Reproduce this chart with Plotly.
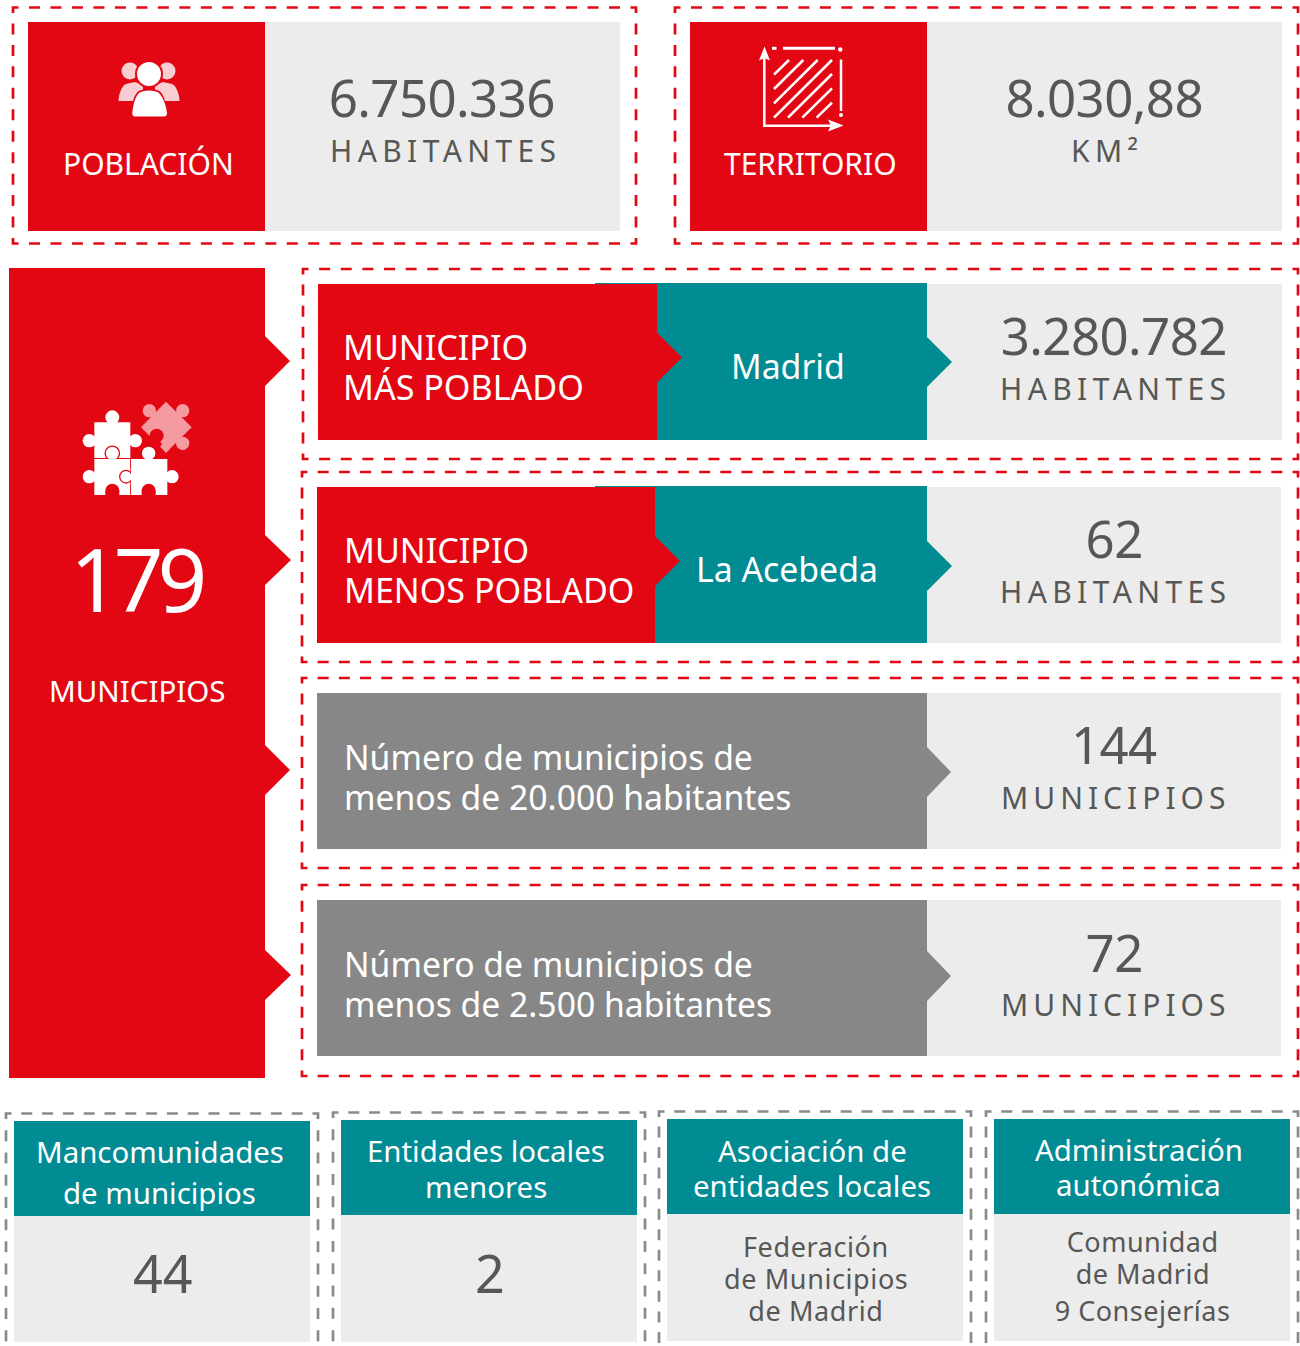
import json
import plotly.graph_objects as go

RED = "#E30713"; TEAL = "#018B93"; DARK = "#878787"; LIGHT = "#ECECEC"; TXT = "#575756"; PINK = "#F9CDD1"; PUZ = "#F49AA1"
GREYLINE = "#8A8A8A"
FONT = "Noto Sans"

# ---------- content ----------
top_labels = ["POBLACIÓN", "TERRITORIO"]
top_values = ["6.750.336", "8.030,88"]
top_units = ["HABITANTES", "KM²"]
total_value = "179"
total_label = "MUNICIPIOS"
row_titles = [["MUNICIPIO", "MÁS POBLADO"], ["MUNICIPIO", "MENOS POBLADO"],
              ["Número de municipios de", "menos de 20.000 habitantes"],
              ["Número de municipios de", "menos de 2.500 habitantes"]]
row_names = ["Madrid", "La Acebeda"]
row_values = ["3.280.782", "62", "144", "72"]
row_units = ["HABITANTES", "HABITANTES", "MUNICIPIOS", "MUNICIPIOS"]
bottom_titles = [["Mancomunidades", "de municipios"], ["Entidades locales", "menores"],
                 ["Asociación de", "entidades locales"], ["Administración", "autonómica"]]
bottom_values = [["44"], ["2"], ["Federación", "de Municipios", "de Madrid"],
                 ["Comunidad", "de Madrid", "9 Consejerías"]]

shapes = []
ann = []
spacing = []

def rect(x0, y0, x1, y1, c):
    shapes.append(dict(type="rect", x0=x0, y0=y0, x1=x1, y1=y1, fillcolor=c, line_width=0, layer="above"))

def circ(cx, cy, r, c):
    shapes.append(dict(type="circle", x0=cx-r, y0=cy-r, x1=cx+r, y1=cy+r, fillcolor=c, line_width=0, layer="above"))

def poly(pts, c):
    p = "M" + " L".join(f"{x},{y}" for x, y in pts) + " Z"
    shapes.append(dict(type="path", path=p, fillcolor=c, line_width=0, layer="above"))

def path(p, c):
    shapes.append(dict(type="path", path=p, fillcolor=c, line_width=0, layer="above"))

def stroke(x0, y0, x1, y1, c="white", w=2.5):
    shapes.append(dict(type="line", x0=x0, y0=y0, x1=x1, y1=y1, line=dict(color=c, width=w), layer="above"))

def side(x0, y0, x1, y1, c, w=2.7, dash=11.0, period=21.4):
    L = abs(x1-x0) + abs(y1-y0)
    n = max(1, round(L/period))
    p = L/n
    ux, uy = (x1-x0)/L, (y1-y0)/L
    s = p - dash/2
    e = L - p + dash/2
    shapes.append(dict(type="line", x0=x0+ux*s, y0=y0+uy*s, x1=x0+ux*e, y1=y0+uy*e,
                       line=dict(color=c, width=w, dash=f"{dash}px,{p-dash}px"), layer="above"))

def corner(x, y, dx, dy, c, w=2.7, a=5.5):
    shapes.append(dict(type="path", path=f"M{x+dx*a},{y} L{x},{y} L{x},{y+dy*a}", fillcolor="rgba(0,0,0,0)",
                       line=dict(color=c, width=w), layer="above"))

def dashed(x0, y0, x1, y1, c):
    side(x0, y0, x1, y0, c); side(x1, y0, x1, y1, c); side(x1, y1, x0, y1, c); side(x0, y1, x0, y0, c)
    corner(x0, y0, 1, 1, c); corner(x1, y0, -1, 1, c); corner(x1, y1, -1, -1, c); corner(x0, y1, 1, -1, c)

def dashed_open(x0, y0, x1, y1, c):
    side(x0, y0, x1, y0, c); side(x1, y0, x1, y1, c); side(x0, y0, x0, y1, c)
    corner(x0, y0, 1, 1, c); corner(x1, y0, -1, 1, c)

def text(x, y, s, size, c, anchor="center", weight=400, ls=0):
    ann.append(dict(x=x + ls/2, y=y, text=s, showarrow=False, xanchor=anchor, yanchor="middle", xref="x", yref="y",
                    font=dict(family=FONT, size=size, color=c, weight=weight), borderpad=0, borderwidth=0))
    spacing.append(ls)

def arrow(x, yc, c, h=25, w=25):
    poly([(x, yc-h), (x+w, yc), (x, yc+h)], c)

# ---------- top boxes ----------
dashed(13, 7.5, 636, 243.5, RED)
rect(28, 22, 265, 231, RED); rect(265, 22, 620, 231, LIGHT)
dashed(675, 7.5, 1298, 243.5, RED)
rect(690, 22, 927, 231, RED); rect(927, 22, 1282, 231, LIGHT)

for i, cx in enumerate([148.5, 810]):
    text(cx, 163.5, top_labels[i], 30, "white")
for i, cx in enumerate([442.5, 1104]):
    text(cx, 97, top_values[i], 51, TXT, ls=-0.6)
for i, cx in enumerate([442.5, 1104]):
    text(cx, 150, top_units[i], 30, TXT, ls=5.4)

# people icon
for cx in (130, 167):
    circ(cx, 71, 8.5, PINK)
path("M118.5,101 C118.5,96 121,86 126,84 L135,82 L143,85 L143,101 Z", PINK)
path("M179.5,101 C179.5,96 177,86 172,84 L163,82 L155,85 L155,101 Z", PINK)
circ(149, 74, 14, RED)
path("M130,117 C131,108 133,96 138,91.5 C142,88.5 156,88.5 160,91.5 C165,96 167,108 168,117 Z", RED)
circ(149, 74, 12, "white")
path("M132.3,113 C133,105 135,97 139,93 C143,89.5 155,89.5 159,93 C163,97 166,105 167,113 C167,115 166,116.5 164,116.5 L135,116.5 C133,116.5 132.3,115 132.3,113 Z", "white")

# territory icon
stroke(764.3, 127, 764.3, 52); stroke(764.3, 125.7, 838, 125.7)
poly([(764.5, 46.5), (759, 60.5), (764.5, 58), (770, 60.5)], "white")
poly([(843.5, 125.5), (828, 119.5), (831, 125.5), (828, 131.5)], "white")
stroke(772, 48.3, 776.5, 48.3, w=3); stroke(783, 48.3, 835, 48.3, w=3)
circ(840.3, 49.5, 2.2, "white"); stroke(841, 59.5, 841, 111, w=2.5); circ(841, 115, 2, "white")
hatch_x0 = [342, 342, 342, 342, 384, 427, 470]
hatch_y0 = [224, 267, 310, 353, 353, 353, 353]
hatch_x1 = [387, 430, 473, 516, 516, 516, 516]
hatch_y1 = [180, 180, 180, 180, 222, 265, 308]
for a, b, c_, d in zip(hatch_x0, hatch_y0, hatch_x1, hatch_y1):
    shapes.append(dict(type="line", x0=660+a/3, y0=b/3, x1=660+c_/3, y1=d/3,
                       line=dict(color="white", width=2.6), layer="above"))

# ---------- left column ----------
rect(9, 268, 265, 1078, RED)
for yc, tip in zip([361, 560, 770, 975], [25, 26, 25, 26]):
    arrow(265, yc, RED, w=tip)
text(138, 578, total_value, 87, "white", weight=400, ls=-6)
text(137, 690.5, total_label, 29.5, "white")

# puzzle icon (coordinates measured in a 3x crop at 60,390)
Z = lambda x, y: (60+x/3, 390+y/3)
def zrect(a, b, c_, d, col):
    x0, y0 = Z(a, b); x1, y1 = Z(c_, d); rect(x0, y0, x1, y1, col)
def zcirc(a, b, r, col):
    x, y = Z(a, b); circ(x, y, r/3, col)
# pink piece
poly([Z(318, 35), Z(395, 112), Z(318, 188), Z(243, 112)], PUZ)
for a, b in [(268, 62), (368, 62), (368, 160)]:
    zcirc(a, b, 20, PUZ)
zcirc(290, 137, 21, RED)
poly([Z(272, 150), Z(300, 152), Z(318, 188), Z(296, 172)], RED)
poly([Z(318, 188), Z(300, 170), Z(310, 160), Z(330, 176)], PUZ)
# white pieces
zrect(103, 97, 211, 204, "white"); zcirc(157, 82, 21, "white"); zcirc(88, 152, 20, "white"); zcirc(226, 152, 20, "white")
zrect(103, 207, 211, 315, "white"); zcirc(88, 260, 20, "white")
zrect(213, 207, 322, 315, "white"); zcirc(266, 190, 20, "white"); zcirc(336, 260, 20, "white")
zcirc(157, 190, 23.5, RED); zcirc(157, 190, 19.5, "white")
zrect(130, 207, 185, 225, "white")
zcirc(198, 260, 21, RED); zcirc(198, 260, 17, "white")
zrect(213, 235, 232, 285, "white")
zcirc(157, 302, 21, RED); zcirc(266, 302, 21, RED)
zrect(136, 302, 178, 316, RED); zrect(245, 302, 287, 316, RED)
zrect(103, 204, 134, 207, RED); zrect(181, 204, 211, 207, RED)
zrect(211, 207, 213, 238, RED); zrect(211, 282, 213, 315, RED)

# ---------- rows ----------
dash_boxes = [(303, 269, 1298, 459), (302, 472, 1298, 662), (302, 678, 1298, 868), (302, 885, 1298, 1076)]
for b in dash_boxes:
    dashed(*b, RED)

rect(595, 283, 927, 440, TEAL); rect(318, 284, 657, 440, RED); rect(927, 284, 1282, 440, LIGHT)
arrow(657, 357.5, RED); arrow(927, 362, TEAL)
rect(595, 486, 927, 643, TEAL); rect(317, 487, 655, 643, RED); rect(927, 487, 1281, 643, LIGHT)
arrow(655, 561, RED); arrow(927, 566, TEAL)
rect(317, 693, 927, 849, DARK); rect(927, 693, 1281, 849, LIGHT); arrow(927, 772, DARK, w=24)
rect(317, 900, 927, 1056, DARK); rect(927, 900, 1281, 1056, LIGHT); arrow(927, 976, DARK, w=24)

row_text_x = [342.5, 343.5, 343.5, 343.5]
row_text_y = [[346.5, 386.5], [549.5, 589.5], [756.5, 796.5], [963.5, 1003.5]]
row_sizes = [34.1, 34.1, 33.7, 33.7]
for i in range(4):
    for j, line in enumerate(row_titles[i]):
        text(row_text_x[i], row_text_y[i][j], line, row_sizes[i], "white", anchor="left")
text(788, 366, row_names[0], 33.8, "white")
text(787, 569, row_names[1], 33.8, "white")
val_y = [334.5, 537.5, 743.5, 951.5]
unit_y = [388, 591, 797, 1004]
unit_x = [1112.5, 1112.5, 1113, 1113]
unit_ls = [5.4, 5.4, 5.0, 5.0]
for i in range(4):
    text(1114.5, val_y[i], row_values[i], 51, TXT, ls=-0.6)
    text(unit_x[i], unit_y[i], row_units[i], 30, TXT, ls=unit_ls[i])

# ---------- bottom ----------
bx = [(6, 318, 14, 310, 1121, 1216, 1342), (333, 645, 341, 637, 1120, 1215, 1342),
      (659, 971, 667, 963, 1119, 1214, 1341), (986, 1298, 994, 1290, 1119, 1214, 1341)]
for d0, d1, x0, x1, t0, t1, b1 in bx:
    dashed_open(d0, t0-7.5, d1, 1358, GREYLINE)
    rect(x0, t0, x1, t1, TEAL); rect(x0, t1, x1, b1, LIGHT)
title_x = [159.5, 486, 812, 1138.7]
title_y = [[1151.5, 1192.5], [1150.5, 1186.5], [1150.5, 1185.5], [1149.5, 1184.5]]
for i in range(4):
    for j, l in enumerate(bottom_titles[i]):
        text(title_x[i], title_y[i][j], l, 29.4, "white")
text(162.5, 1272.5, bottom_values[0][0], 52, TXT)
text(489.5, 1272.5, bottom_values[1][0], 52, TXT)
for j, y in enumerate([1246.5, 1278.5, 1310.5]):
    text(815.5, y, bottom_values[2][j], 27, TXT, ls=0.6)
for j, y in enumerate([1241.5, 1273.5, 1310.5]):
    text(1142.5, y, bottom_values[3][j], 27, TXT, ls=0.5)

fig = go.Figure()
fig.update_layout(width=1300, height=1346, margin=dict(l=0, r=0, t=0, b=0), autosize=False,
                  paper_bgcolor="white", plot_bgcolor="white", showlegend=False,
                  xaxis=dict(range=[0, 1300], visible=False, fixedrange=True),
                  yaxis=dict(range=[1346, 0], visible=False, fixedrange=True),
                  shapes=shapes, annotations=ann)
post = ("document.body.style.margin='0';document.body.style.overflow='hidden';"
        "var s=" + json.dumps(spacing) + ";"
        "document.querySelectorAll('.annotation-text').forEach(function(e,i){if(s[i])e.style.letterSpacing=s[i]+'px';});")
fig.write_html("out.html", post_script=post, config=dict(displayModeBar=False))
